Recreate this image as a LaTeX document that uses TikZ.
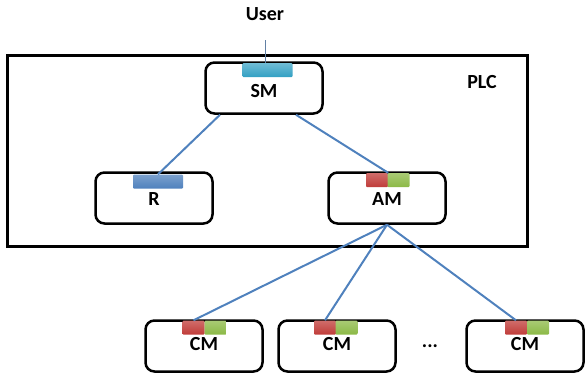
\documentclass[tikz,border=0pt]{standalone}
\usepackage{fontspec}
\setmainfont{Carlito}
\usetikzlibrary{positioning}
\definecolor{linkblue}{RGB}{79,129,189}
\definecolor{smport}{RGB}{50,160,195}
\definecolor{rport}{RGB}{79,129,189}
\definecolor{redport}{RGB}{192,60,57}
\definecolor{greenport}{RGB}{140,185,70}
\begin{document}
\begin{tikzpicture}
		[x=1pt,y=-1pt,
		font=\fontsize{20}{22}\selectfont\bfseries,
		module/.style ={rectangle, draw=black, line width=2.5pt, fill=white, rounded corners=9pt, minimum width=117pt, minimum height=51pt, inner sep=0pt},
		port/.style ={rectangle, inner sep=0pt, minimum height=14pt, rounded corners=1pt},
		wideport/.style = {port, minimum width=50pt},
		halfport/.style = {port, minimum width=22pt},
		redp/.style = {halfport, top color=redport!75!white, bottom color=redport},
		greenp/.style = {halfport, top color=greenport!75!white, bottom color=greenport},
		link/.style ={draw=linkblue, line width=2pt},
		]
		\useasboundingbox (0,0) rectangle (586,373);

		\draw[line width=3pt] (7,55) rectangle (527,246);
		\draw (482,82) node (PLC) {PLC};
		\draw (265,14) node (User) {User};
		\coordinate (uin) at (265,40);

		\draw (264,88) node[module] (SM) {};
		\draw (154,198) node[module] (R) {};
		\draw (387,198) node[module] (AM) {};
		\draw (204,346) node[module] (CM1) {};
		\draw (337,346) node[module] (CM2) {};
		\draw (525,346) node[module] (CM3) {};

		\draw (267.5,70) node[wideport, top color=smport!70!white, bottom color=smport] (SMp) {};
		\draw (158,181.5) node[wideport, top color=rport!75!white, bottom color=rport] (Rp) {};
		\draw (377,180) node[redp] (AMr) {};
		\draw (398.5,180) node[greenp] (AMg) {};
		\draw (193.5,327.5) node[redp] (CM1r) {};
		\draw (215.5,327.5) node[greenp] (CM1g) {};
		\draw (325,327.5) node[redp] (CM2r) {};
		\draw (346.5,327.5) node[greenp] (CM2g) {};
		\draw (516,327.5) node[redp] (CM3r) {};
		\draw (538,327.5) node[greenp] (CM3g) {};

		\draw (264,91) node {SM};
		\draw (154,199) node {R};
		\draw (387,199) node {AM};
		\draw (204,344) node {CM};
		\draw (337,344) node {CM};
		\draw (525,344) node {CM};
		\draw (430,346) node (dots) {...};

		\path[link]
		(uin) edge[draw=linkblue!60!gray, line width=1pt] (uin |- SMp.north)
		([xshift=-44pt]SM.south) edge (Rp.north)
		([xshift=32pt]SM.south) edge (AMr.north east)
		(AM.south) edge (CM1r.north)
		(AM.south) edge (CM2r.north)
		(AM.south) edge (CM3r.north);
	\end{tikzpicture}
\end{document}
